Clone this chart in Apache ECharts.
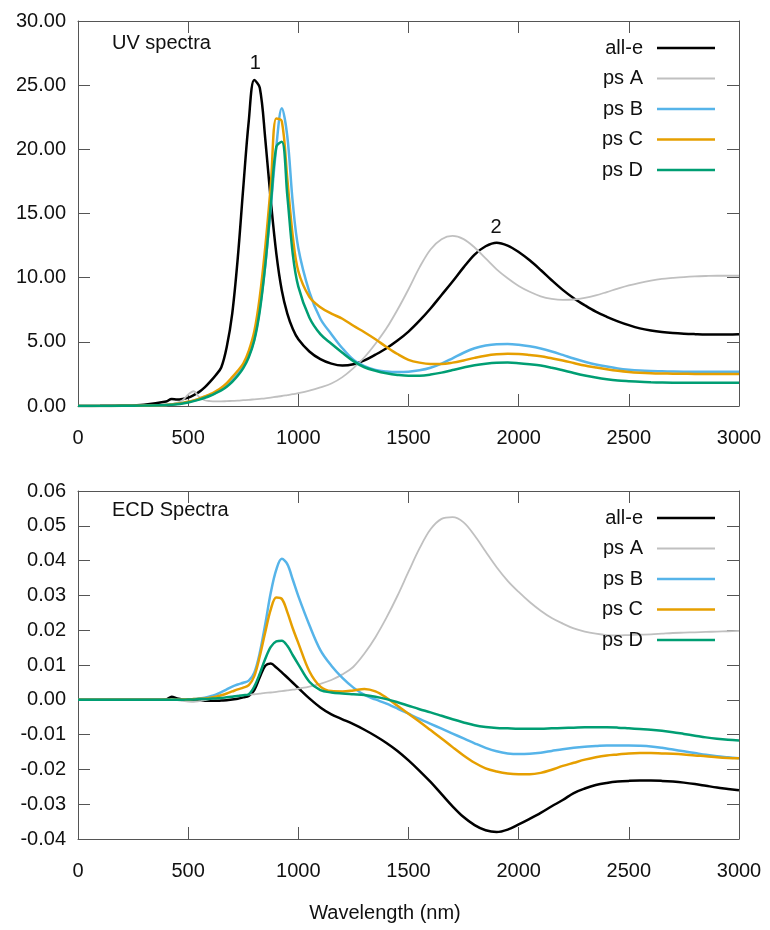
<!DOCTYPE html>
<html>
<head>
<meta charset="utf-8">
<script src="https://cdn.jsdelivr.net/npm/echarts@6/dist/echarts.min.js"></script>
<style>html,body{margin:0;padding:0;background:#fff;}#c{width:770px;height:930px;}</style>
</head>
<body>
<div id="c"></div>
<script>
// Wavelength grid (nm)
const wavelength = [0,100,200,300,
 400,425,450,475,500,525,550,575,600,625,650,675,700,725,750,775,800,825,850,875,900,925,950,975,
 1000,1050,1100,1150,1200,1250,1300,1350,1400,1450,1500,1550,1600,1650,1700,1750,1800,1850,1900,1950,
 2000,2050,2100,2150,2200,2250,2300,2350,2400,2450,2500,2550,2600,2650,2700,2750,2800,2850,2900,2950,3000];

const seriesNames = ['all-e','ps A','ps B','ps C','ps D'];

// UV spectra
const uvAllE = [0,0.01,0.03,0.1,
 0.35,0.55,0.5,0.55,0.65,0.85,1.1,1.45,1.9,2.4,3.0,4.6,7.2,11.5,17.0,22.2,25.4,24.8,20.8,16.0,11.9,9.0,7.2,6.0,
 5.2,4.25,3.65,3.3,3.15,3.25,3.55,4.0,4.5,5.1,5.8,6.65,7.6,8.65,9.7,10.8,11.8,12.45,12.73,12.5,
 12.0,11.35,10.6,9.8,9.05,8.4,7.85,7.35,6.95,6.6,6.3,6.05,5.88,5.76,5.68,5.63,5.6,5.58,5.58,5.58,5.6];
const uvPsA = [0,0,0.01,0.03,
 0.1,0.15,0.25,0.45,0.9,1.15,0.7,0.45,0.38,0.36,0.36,0.38,0.4,0.42,0.45,0.48,0.52,0.56,0.6,0.66,0.72,0.78,0.85,0.92,
 1.0,1.2,1.45,1.75,2.25,2.95,3.8,4.85,6.05,7.5,9.1,10.8,12.2,13.0,13.25,13.0,12.35,11.5,10.65,9.95,
 9.35,8.9,8.55,8.35,8.27,8.3,8.42,8.62,8.88,9.15,9.4,9.6,9.77,9.9,9.98,10.05,10.1,10.13,10.15,10.15,10.15];
const uvPsB = [0,0,0.01,0.03,
 0.08,0.12,0.17,0.24,0.32,0.42,0.55,0.7,0.85,1.05,1.3,1.6,2.0,2.5,3.1,3.9,5.2,7.6,11.0,15.5,20.2,23.2,21.0,15.8,
 12.3,8.9,6.8,5.6,4.5,3.6,3.1,2.8,2.68,2.64,2.67,2.78,2.98,3.3,3.72,4.15,4.5,4.72,4.82,4.83,
 4.77,4.65,4.48,4.25,3.98,3.7,3.45,3.24,3.07,2.93,2.83,2.76,2.72,2.7,2.68,2.67,2.67,2.66,2.66,2.66,2.66];
const uvPsC = [0,0,0.01,0.03,
 0.08,0.12,0.17,0.24,0.33,0.44,0.58,0.75,0.92,1.15,1.42,1.78,2.25,2.75,3.3,4.3,5.8,8.5,12.4,17.2,22.4,22.2,17.7,13.2,
 10.5,8.5,7.7,7.2,6.8,6.25,5.75,5.2,4.6,4.05,3.6,3.38,3.28,3.28,3.38,3.55,3.75,3.92,4.03,4.08,
 4.06,3.98,3.88,3.72,3.55,3.35,3.15,3.0,2.86,2.74,2.65,2.59,2.55,2.53,2.52,2.51,2.5,2.5,2.5,2.5,2.5];
const uvPsD = [0,0,0.01,0.03,
 0.07,0.1,0.14,0.2,0.28,0.38,0.5,0.64,0.8,1.0,1.22,1.5,1.88,2.35,2.95,3.8,5.1,7.4,11.0,15.7,20.2,20.6,16.4,11.8,
 9.3,6.9,5.6,4.85,4.15,3.5,3.02,2.75,2.55,2.42,2.35,2.36,2.45,2.6,2.8,3.0,3.18,3.3,3.37,3.38,
 3.33,3.25,3.15,2.98,2.78,2.57,2.38,2.22,2.09,1.99,1.93,1.88,1.85,1.83,1.82,1.82,1.81,1.81,1.81,1.81,1.81];

// ECD spectra
const ecdAllE = [0,0,0,0,
 0.0001,0.0009,0.0004,0.0001,0,-0.0001,-0.0002,-0.0003,-0.0003,-0.0003,-0.0002,-0.0001,0.0001,0.0003,0.0007,0.0011,0.0028,0.0065,0.0098,0.0104,0.0093,0.0079,0.0064,0.0049,
 0.0034,0.0004,-0.0022,-0.0042,-0.0056,-0.007,-0.0086,-0.0104,-0.0124,-0.0147,-0.0174,-0.0204,-0.0236,-0.0271,-0.0306,-0.0337,-0.036,-0.0375,-0.038,-0.0373,
 -0.0358,-0.0342,-0.0325,-0.0306,-0.0288,-0.0268,-0.0255,-0.0245,-0.0239,-0.0235,-0.0233,-0.0232,-0.0232,-0.0233,-0.0235,-0.0238,-0.0242,-0.0247,-0.0252,-0.0256,-0.026];
const ecdPsA = [0,0,0,0,
 0,0,-0.0001,-0.0003,-0.0005,-0.0006,-0.0004,-0.0001,0.0002,0.0004,0.0006,0.0008,0.001,0.0012,0.0013,0.0015,0.0016,0.0018,0.002,0.0021,0.0023,0.0025,0.0027,0.0029,
 0.0032,0.0038,0.0046,0.0057,0.0073,0.0095,0.0133,0.018,0.0236,0.0299,0.0368,0.0435,0.049,0.052,0.0525,0.051,0.0472,0.0426,0.0381,0.0342,
 0.031,0.0281,0.0256,0.0235,0.0219,0.0205,0.0196,0.019,0.0186,0.0185,0.0186,0.0187,0.0188,0.019,0.0192,0.0193,0.0194,0.0195,0.0196,0.0197,0.0198];
const ecdPsB = [0,0,0,0,
 0,0,0,0.0001,0.0001,0.0002,0.0004,0.0006,0.001,0.0015,0.0022,0.003,0.0038,0.0044,0.0049,0.0055,0.0078,0.0135,0.0218,0.0308,0.0374,0.0405,0.039,0.0345,
 0.0298,0.0215,0.0143,0.0098,0.0063,0.0035,0.0014,0.0001,-0.0011,-0.0025,-0.004,-0.0055,-0.0069,-0.0083,-0.0097,-0.0111,-0.0125,-0.0138,-0.0148,-0.0154,
 -0.0156,-0.0155,-0.0152,-0.0147,-0.0142,-0.0138,-0.0135,-0.0133,-0.0131,-0.0131,-0.0131,-0.0132,-0.0134,-0.0138,-0.0143,-0.0148,-0.0153,-0.0158,-0.0162,-0.0165,-0.0168];
const ecdPsC = [0,0,0,0,
 0,0,0,0.0001,0.0001,0.0002,0.0003,0.0004,0.0006,0.0009,0.0013,0.0018,0.0024,0.003,0.0035,0.0042,0.0068,0.0125,0.0195,0.026,0.0294,0.029,0.0252,0.0205,
 0.0163,0.0082,0.0038,0.0025,0.0024,0.0027,0.0031,0.0024,0.0006,-0.0017,-0.004,-0.0063,-0.0087,-0.0111,-0.0136,-0.016,-0.0181,-0.0197,-0.0206,-0.0212,
 -0.0214,-0.0214,-0.021,-0.0201,-0.019,-0.0181,-0.0172,-0.0165,-0.016,-0.0157,-0.0154,-0.0153,-0.0153,-0.0154,-0.0155,-0.0157,-0.016,-0.0162,-0.0165,-0.0167,-0.0168];
const ecdPsD = [0,0,0,0,
 0,0,0,0,0.0001,0.0001,0.0002,0.0002,0.0003,0.0004,0.0005,0.0007,0.0009,0.0011,0.0013,0.0016,0.0038,0.0075,0.0118,0.0152,0.0168,0.017,0.0155,0.0128,
 0.0102,0.0052,0.0028,0.0021,0.0018,0.0016,0.0014,0.0009,0.0002,-0.0007,-0.0017,-0.0027,-0.0036,-0.0046,-0.0056,-0.0065,-0.0073,-0.0078,-0.0081,-0.0082,
 -0.0083,-0.0083,-0.0083,-0.0082,-0.0081,-0.008,-0.0079,-0.0079,-0.0079,-0.008,-0.0082,-0.0084,-0.0086,-0.0089,-0.0093,-0.0098,-0.0103,-0.0108,-0.0112,-0.0115,-0.0117];

// Peak annotations on UV all-e
const peakLabels = ['1','2'];
const peakWavelength = [805, 1897];
const peakValue = [25.5, 12.73];

// Axis tick settings
const xTicks = {min:0, max:3000, interval:500};
const uvTicks = {min:0, max:30, interval:5};
const ecdTicks = {min:-0.04, max:0.06, interval:0.01};

const panelTitles = ['UV spectra','ECD Spectra'];
const xAxisTitle = 'Wavelength (nm)';

const colors = ['#000000','#c0c0c0','#56b4e9','#e69f00','#009e73'];
const widths = [2.5,1.8,2.5,2.5,2.5];
const FONT = 'Liberation Sans, Arial, sans-serif';

const uvSets = [uvAllE, uvPsA, uvPsB, uvPsC, uvPsD];
const ecdSets = [ecdAllE, ecdPsA, ecdPsB, ecdPsC, ecdPsD];

function pairs(arr){ return wavelength.map((w,i)=>[w, arr[i]]); }

const axisLineStyle = {color:'#555', width:1};
function xAxisDef(gi, pos, labels){
  return {type:'value', gridIndex:gi, position:pos, min:xTicks.min, max:xTicks.max, interval:xTicks.interval,
    axisLine:{show:true, onZero:false, lineStyle:axisLineStyle},
    axisTick:{show:true, inside:true, length:12, lineStyle:axisLineStyle},
    axisLabel:{show:labels, margin:22, fontSize:20, color:'#111', fontFamily:FONT, formatter:(v)=>String(v)},
    splitLine:{show:false}};
}
function yAxisDef(gi, pos, t, labels){
  return {type:'value', gridIndex:gi, position:pos, min:t.min, max:t.max, interval:t.interval,
    axisLine:{show:true, onZero:false, lineStyle:axisLineStyle},
    axisTick:{show:true, inside:true, length:12, lineStyle:axisLineStyle},
    axisLabel:{show:labels, margin:12, fontSize:20, color:'#111', fontFamily:FONT,
      formatter:(v)=>v.toFixed(2)},
    splitLine:{show:false}};
}

const series = [];
seriesNames.forEach((n,i)=>{
  const s = {name:n, type:'line', xAxisIndex:0, yAxisIndex:0, data:pairs(uvSets[i]),
    showSymbol:false, symbol:'none', smooth:0.35, z: 2+i,
    lineStyle:{color:colors[i], width:widths[i]}, itemStyle:{color:colors[i]}};
  if(i===0){
    s.markPoint = {symbol:'circle', symbolSize:2, itemStyle:{color:'rgba(0,0,0,0)'},
      label:{show:true, position:'top', distance:4, fontSize:20, color:'#111', fontFamily:FONT, formatter:'{b}'},
      data: peakLabels.map((l,k)=>({name:l, coord:[peakWavelength[k], peakValue[k]]}))};
  }
  series.push(s);
});
seriesNames.forEach((n,i)=>{
  series.push({name:n, type:'line', xAxisIndex:2, yAxisIndex:2, data:pairs(ecdSets[i]),
    showSymbol:false, symbol:'none', smooth:0.35, z: 2+i,
    lineStyle:{color:colors[i], width:widths[i]}, itemStyle:{color:colors[i]}});
});

function legendDef(top){
  return {data:seriesNames.map((n,i)=>({name:n, icon:'path://M0,0H58V' + (widths[i]) + 'H0Z'})),
    orient:'vertical', right:55, top:top, align:'right', padding:0,
    itemWidth:58, itemHeight:20, itemGap:10.5, selectedMode:false, symbolKeepAspect:true,
    textStyle:{fontSize:20, color:'#111', fontFamily:FONT, padding:[0,9,0,0]}};
}

const option = {
  animation:false,
  backgroundColor:'#fff',
  title:[
    {text:panelTitles[0], left:112, top:33, padding:0, textStyle:{fontSize:20, fontWeight:'normal', color:'#111', fontFamily:FONT}},
    {text:panelTitles[1], left:112, top:500, padding:0, textStyle:{fontSize:20, fontWeight:'normal', color:'#111', fontFamily:FONT}},
    {text:xAxisTitle, left:'center', top:903, padding:0, textStyle:{fontSize:20, fontWeight:'normal', color:'#111', fontFamily:FONT}}
  ],
  legend:[legendDef(38), legendDef(508)],
  grid:[
    {left:78, top:21, width:661, height:385},
    {left:78, top:491, width:661, height:348}
  ],
  xAxis:[xAxisDef(0,'bottom',true), xAxisDef(0,'top',false), xAxisDef(1,'bottom',true), xAxisDef(1,'top',false)],
  yAxis:[yAxisDef(0,'left',uvTicks,true), yAxisDef(0,'right',uvTicks,false), yAxisDef(1,'left',ecdTicks,true), yAxisDef(1,'right',ecdTicks,false)],
  series:series
};
const chart = echarts.init(document.getElementById('c'), null, {renderer:'canvas'});
chart.setOption(option);
</script>
</body>
</html>
